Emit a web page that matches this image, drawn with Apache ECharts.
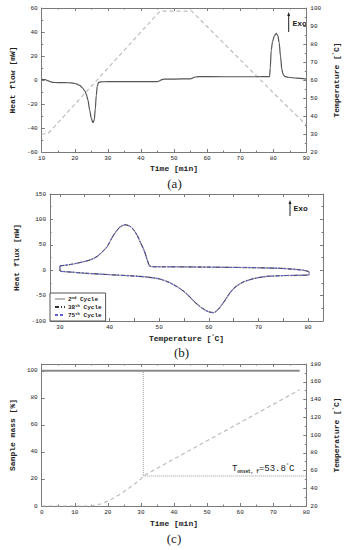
<!DOCTYPE html>
<html><head><meta charset="utf-8">
<script src="https://cdn.jsdelivr.net/npm/echarts@6/dist/echarts.min.js"></script>
<style>html,body{margin:0;padding:0;background:#fff}#c{width:348px;height:550px}</style>
</head><body><div id="c"></div>
<script>
// ---------- (a) DSC: heat flow and temperature vs time ----------
const aTime = [10, 11, 12, 13, 14, 16, 18, 19.5, 20.5, 21.5, 22.3, 23, 23.5, 24, 24.5, 25, 25.5, 25.9, 26.2, 26.5, 26.8, 27.2, 27.8, 30, 40, 45, 45.6, 46.3, 47, 50, 55, 55.6, 56.3, 57.5, 65, 75, 78.9, 79.1, 79.4, 79.8, 80.3, 80.9, 81.4, 81.8, 82.2, 82.6, 83, 83.5, 84.5, 87, 90];
const aHeatFlow = [0.6, 0.4, -0.8, -1.8, -2.1, -2.2, -2.3, -2.6, -3.3, -4.5, -6.5, -9, -12, -17, -25, -32, -35.5, -33, -24, -13, -5, -2, -1.5, -1.4, -1.4, -1.3, -0.8, 0.3, 0.7, 0.8, 1, 1.6, 2.5, 2.8, 2.7, 2.7, 2.8, 10, 25, 32, 36.5, 38.9, 37, 31, 20, 9, 4.5, 3, 2.3, 1.5, 0.8];
const aTempTime = [10, 11.8, 45.8, 55.3, 80.2, 90];
const aTemp = [30, 30, 98.3, 98.3, 52.6, 35];
const aXTicks = [10, 90, 10];      // min, max, step
const aYLeft = [-60, 60, 20];
const aYRight = [20, 100, 10];

// ---------- (b) heat flux loop vs temperature ----------
const bUpperT = [30, 32, 34, 36, 37.5, 38.5, 39.5, 40.5, 41.3, 42.1, 43.2, 44.2, 44.9, 45.6, 46.3, 47, 47.6, 48, 48.4, 50, 55, 60, 65, 70, 74, 77, 79, 80.2];
const bUpperQ = [8.5, 11, 15, 20, 27, 36, 46, 64, 76, 85, 89.5, 86, 79, 68, 53, 38, 20, 9, 7.2, 6.8, 6.5, 6, 5.5, 4.8, 3.8, 2, 0, -3.5];
const bLowerT = [80.2, 78, 75, 72, 70, 68.5, 67, 66, 65, 64, 63, 62, 61, 60, 59, 58, 57, 56, 55, 54, 53, 52, 50, 47.5, 45, 40, 35, 32, 30, 30];
const bLowerQ = [-9, -10, -10.6, -12, -14.5, -18, -23, -28.5, -36, -48, -63, -76, -83.6, -82, -77, -70, -61, -51, -42, -35, -29, -24, -17, -13.5, -11.5, -8.8, -5.9, -3.5, -1.3, 8.5];
const bCycles = ['2nd Cycle', '38th Cycle', '75th Cycle'];
const bXLabels = [30, 40, 50, 60, 70, 80];
const bXTicks = [30, 35, 40, 45, 50, 55, 60, 65, 70, 75, 80];
const bXRange = [28, 83];
const bYAxis = [-100, 150, 50];

// ---------- (c) TGA: sample mass and temperature vs time ----------
const cTime = [0, 78];
const cMass = [100, 100];
const cTempTime = [0, 14.5, 16, 18, 20, 22, 24, 26, 28, 30, 30.7, 40, 50, 60, 70, 78];
const cTemp = [20, 20, 20.6, 22.5, 25.5, 29.5, 34, 39, 44.5, 50.5, 53.8, 73, 93.5, 114, 134.5, 151];
const cOnsetTime = 30.7;
const cOnsetTemp = 53.8;
const cXTicks = [0, 80, 10];
const cYLeftRange = [0, 105];
const cYLeftLabels = [0, 20, 40, 60, 80, 100];
const cYRight = [20, 180, 20];

const zip = (xs, ys) => xs.map((x, i) => [x, ys[i]]);
const MONO = '"Liberation Mono","DejaVu Sans Mono",monospace';
const AX = '#7a7a7a';
const tickLbl = { fontFamily: MONO, fontSize: 6, color: '#222' };
const nameStyle = { fontFamily: MONO, fontSize: 8, fontWeight: 'bold', color: '#222',
  rich: { sup: { fontFamily: MONO, fontSize: 5, fontWeight: 'bold', verticalAlign: 'top', lineHeight: 8, color: '#222' } } };

function axis(o) {
  return Object.assign({
    type: 'value', scale: false,
    axisLine: { show: true, onZero: false, lineStyle: { color: AX, width: 1 } },
    axisTick: { show: true, inside: true, length: 3, lineStyle: { color: AX } },
    minorTick: { show: true, splitNumber: 2, length: 1.5, lineStyle: { color: AX } },
    splitLine: { show: false },
    axisLabel: Object.assign({ show: true, margin: 4 }, tickLbl),
    nameLocation: 'middle', nameTextStyle: nameStyle
  }, o);
}
function mirror(o) {
  return axis(Object.assign({ axisLabel: { show: false } }, o));
}

const topTemp = cYRight[0] + (cMass[0] - cYLeftRange[0]) / (cYLeftRange[1] - cYLeftRange[0]) * (cYRight[1] - cYRight[0]);
const cycleColors = ['#b8b8b8', '#333333', '#5f5fd0'];
const cycleDash = ['solid', [4, 2, 1, 2], [3, 2]];
const loop = zip(bUpperT.concat(bLowerT), bUpperQ.concat(bLowerQ));

const option = {
  animation: false,
  backgroundColor: '#fff',
  grid: [
    { left: 32, top: 8, width: 279, height: 144 },
    { left: 50, top: 194, width: 273, height: 127 },
    { left: 33, top: 364, width: 277, height: 142 }
  ],
  xAxis: [
    axis({ gridIndex: 0, position: 'bottom', min: aXTicks[0], max: aXTicks[1], interval: aXTicks[2], name: 'Time [min]', nameGap: 12, axisLabel: Object.assign({ margin: 3 }, tickLbl) }),
    mirror({ gridIndex: 0, position: 'top', min: aXTicks[0], max: aXTicks[1], interval: aXTicks[2] }),
    axis({ gridIndex: 1, position: 'bottom', min: bXRange[0], max: bXRange[1], name: 'Temperature [{sup|°}C]', nameGap: 13,
      axisLabel: Object.assign({ margin: 3, customValues: bXLabels }, tickLbl),
      axisTick: { show: true, inside: true, length: 3, lineStyle: { color: AX }, customValues: bXTicks },
      minorTick: { show: false } }),
    mirror({ gridIndex: 1, position: 'top', min: bXRange[0], max: bXRange[1],
      axisTick: { show: true, inside: true, length: 3, lineStyle: { color: AX }, customValues: bXTicks },
      minorTick: { show: false } }),
    axis({ gridIndex: 2, position: 'bottom', min: cXTicks[0], max: cXTicks[1], interval: cXTicks[2], name: 'Time [min]', nameGap: 13, axisLabel: Object.assign({ margin: 3 }, tickLbl) }),
    mirror({ gridIndex: 2, position: 'top', min: cXTicks[0], max: cXTicks[1], interval: cXTicks[2] })
  ],
  yAxis: [
    axis({ gridIndex: 0, position: 'left', min: aYLeft[0], max: aYLeft[1], interval: aYLeft[2], name: 'Heat flow [mW]', nameGap: 19 }),
    axis({ gridIndex: 0, position: 'right', min: aYRight[0], max: aYRight[1], interval: aYRight[2], name: 'Temperature [{sup|°}C]', nameGap: 22, nameRotate: 90 }),
    axis({ gridIndex: 1, position: 'left', min: bYAxis[0], max: bYAxis[1], interval: bYAxis[2], name: 'Heat flux [mW]', nameGap: 18 }),
    mirror({ gridIndex: 1, position: 'right', min: bYAxis[0], max: bYAxis[1], interval: bYAxis[2] }),
    axis({ gridIndex: 2, position: 'left', min: cYLeftRange[0], max: cYLeftRange[1], name: 'Sample mass [%]', nameGap: 19,
      axisLabel: Object.assign({ margin: 4, customValues: cYLeftLabels }, tickLbl),
      axisTick: { show: true, inside: true, length: 3, lineStyle: { color: AX }, customValues: cYLeftLabels },
      minorTick: { show: false } }),
    axis({ gridIndex: 2, position: 'right', min: cYRight[0], max: cYRight[1], interval: cYRight[2], name: 'Temperature [{sup|°}C]', nameGap: 20, nameRotate: 90 })
  ],
  legend: {
    show: true, orient: 'vertical', left: 50, top: 293, padding: [3, 4], itemGap: 2,
    itemWidth: 10, itemHeight: 6, borderColor: '#555', borderWidth: 1, backgroundColor: '#fff',
    data: bCycles,
    itemStyle: { opacity: 0, borderWidth: 0 },
    formatter: n => n.replace(/^(\d+)(nd|th)/, '$1{sup|$2}'),
    textStyle: { fontFamily: MONO, fontSize: 6, color: '#222', fontWeight: 'bold', padding: [0, 0, 0, -2],
      rich: { sup: { fontFamily: MONO, fontSize: 4, verticalAlign: 'top', color: '#222' } } }
  },
  series: [
    { name: 'Temperature (a)', type: 'line', xAxisIndex: 0, yAxisIndex: 1, data: zip(aTempTime, aTemp), symbol: 'none',
      lineStyle: { color: '#bdbdbd', width: 1.2, type: [4, 3] }, z: 2 },
    { name: 'Heat flow', type: 'line', xAxisIndex: 0, yAxisIndex: 0, data: zip(aTime, aHeatFlow), symbol: 'none',
      smooth: 0.3, smoothMonotone: 'x', lineStyle: { color: '#555', width: 1.2 }, z: 3 },

    ...bCycles.map((n, i) => ({
      name: n, type: 'line', xAxisIndex: 2, yAxisIndex: 2, data: loop, symbol: 'none', smooth: 0.2,
      itemStyle: { color: cycleColors[i] },
      lineStyle: { color: cycleColors[i], width: i === 0 ? 1.4 : 1, type: cycleDash[i] }
    })),

    { name: 'Temperature (c)', type: 'line', xAxisIndex: 4, yAxisIndex: 5, data: zip(cTempTime, cTemp), symbol: 'none',
      lineStyle: { color: '#bdbdbd', width: 1.2, type: [4, 3] } },
    { name: 'Onset', type: 'line', xAxisIndex: 4, yAxisIndex: 5,
      data: [[cXTicks[1], cOnsetTemp], [cOnsetTime, cOnsetTemp], [cOnsetTime, topTemp]], symbol: 'none',
      lineStyle: { color: '#999', width: 1, type: [1, 1] } },
    { name: 'Sample mass', type: 'line', xAxisIndex: 4, yAxisIndex: 4, data: zip(cTime, cMass), symbol: 'none',
      lineStyle: { color: '#8a8a8a', width: 1.8 } }
  ]
};

const chart = echarts.init(document.getElementById('c'), null, { renderer: 'svg' });
chart.setOption(option);

const onsetPx = chart.convertToPixel({ xAxisIndex: 4, yAxisIndex: 5 }, [cXTicks[1], cOnsetTemp]);
const capFont = '13px "Liberation Serif", "DejaVu Serif", serif';
function arrow(x, y1, y2) {
  return [
    { type: 'line', shape: { x1: x, y1: y1, x2: x, y2: y2 + 3 }, style: { stroke: '#222', lineWidth: 1 } },
    { type: 'polygon', shape: { points: [[x - 1.5, y2 + 4], [x + 1.5, y2 + 4], [x, y2]] }, style: { fill: '#222' } }
  ];
}
chart.setOption({
  graphic: [
    ...arrow(288.7, 32, 12),
    { type: 'text', x: 292.5, y: 23, style: { text: 'Exo', font: 'bold 8px ' + MONO, fill: '#222', verticalAlign: 'middle' } },
    ...arrow(290, 216, 200),
    { type: 'text', x: 293.5, y: 208.3, style: { text: 'Exo', font: 'bold 8px ' + MONO, fill: '#222', verticalAlign: 'middle' } },
    { type: 'text', x: 174.5, y: 183.5, style: { text: '(a)', font: capFont, fill: '#222', align: 'center', verticalAlign: 'middle' } },
    { type: 'text', x: 181.5, y: 352.5, style: { text: '(b)', font: capFont, fill: '#222', align: 'center', verticalAlign: 'middle' } },
    { type: 'text', x: 174, y: 538.5, style: { text: '(c)', font: capFont, fill: '#222', align: 'center', verticalAlign: 'middle' } },
    { type: 'text', x: onsetPx[0] - 12, y: onsetPx[1] - 2,
      style: { text: '{m|T}{s|onset, f}{m|=53.8}{p|°}{m|C}', align: 'right', verticalAlign: 'bottom', fill: '#222',
        rich: {
          m: { fontFamily: MONO, fontSize: 9, lineHeight: 11, verticalAlign: 'middle', fill: '#222' },
          s: { fontFamily: MONO, fontSize: 4.5, lineHeight: 11, verticalAlign: 'bottom', fill: '#222', fontWeight: 'bold' },
          p: { fontFamily: MONO, fontSize: 5, lineHeight: 11, verticalAlign: 'top', fill: '#222' }
        } } }
  ]
});
</script>
</body></html>
